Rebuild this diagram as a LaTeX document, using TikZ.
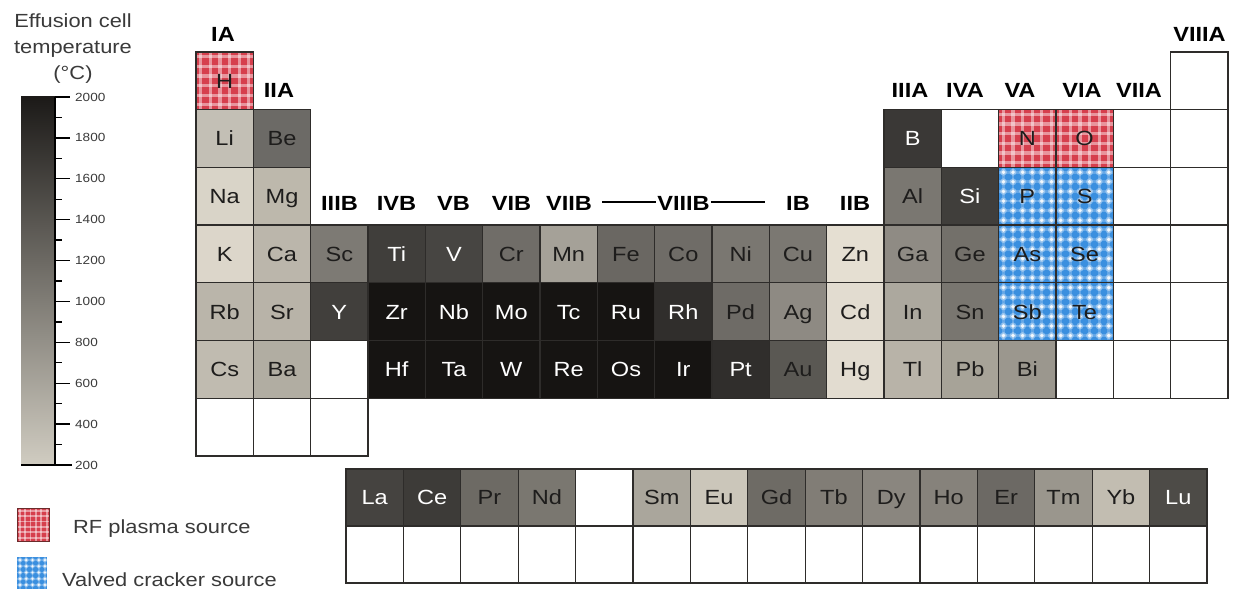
\documentclass[tikz,border=0pt]{standalone}
\usepackage{fontspec}
\setmainfont{Liberation Sans}
\newfontfamily\widesans[FakeStretch=1.15]{Liberation Sans}

\definecolor{gridline}{HTML}{2E2C2A}
\definecolor{inkdark}{HTML}{1E1D1C}
\definecolor{rfred}{HTML}{D63F4D}
\definecolor{rfedge}{HTML}{6A2B2B}
\definecolor{vcblue}{HTML}{3A8FDF}
\definecolor{barhot}{HTML}{1C1A18}
\definecolor{barcool}{HTML}{D0CCC1}
\definecolor{labelgray}{HTML}{3A3A3A}

\newcommand\elemfont{\widesans\fontsize{20.5}{20.5}\selectfont}
\newcommand\groupfont{\widesans\bfseries\fontsize{20.5}{20.5}\selectfont}
\newcommand\titlefont{\widesans\fontsize{19}{19}\selectfont}
\newcommand\scalefont{\widesans\fontsize{11.8}{11.8}\selectfont}

\tikzset{
  cellbox/.style={rectangle, draw=gridline, line width=1.3pt, anchor=north west,
    inner sep=0pt, outer sep=0pt, minimum width=57.33pt, minimum height=57.7pt,
    font=\elemfont, text height=14.7pt, text depth=0pt},
  lanbox/.style={cellbox, minimum width=57.4pt, minimum height=57pt},
  grp/.style={font=\groupfont, text=black, inner sep=1pt, text height=14.7pt, text depth=0pt},
  ticklabel/.style={font=\scalefont, text=labelgray, anchor=west, inner sep=0pt},
  titletext/.style={font=\titlefont, text=labelgray, anchor=base, inner sep=0pt},
  legendtext/.style={font=\titlefont, text=labelgray, anchor=base west, inner sep=0pt},
}

% red gingham patch: x0, y0, width, height, pitch
\newcommand\rfpatch[5]{%
  \begin{scope}
    \clip (#1,#2) rectangle ++(#3,#4);
    \fill[rfred] (#1,#2) rectangle ++(#3,#4);
    \foreach \k in {0,...,6} {
      \draw[white, opacity=.45, line width={0.34*#5}] ({#1+(\k+0.5)*#5},#2) -- ++(0,#4);
      \draw[white, opacity=.45, line width={0.34*#5}] (#1,{#2+(\k+0.5)*#5}) -- ++(#3,0);
    }
  \end{scope}}
% blue dotted patch: x0, y0, width, height, pitch
\newcommand\vcpatch[5]{%
  \begin{scope}
    \clip (#1,#2) rectangle ++(#3,#4);
    \fill[vcblue] (#1,#2) rectangle ++(#3,#4);
    \foreach \k in {0,...,6} {
      \draw[white, opacity=.22, line width={0.3*#5}] ({#1+(\k+0.5)*#5},#2) -- ++(0,#4);
      \draw[white, opacity=.22, line width={0.3*#5}] (#1,{#2+(\k+0.5)*#5}) -- ++(#3,0);
    }
    \foreach \r in {0,...,6} \foreach \c in {0,...,6} {
      \fill[white, opacity=.35] ({#1+(\c+0.5)*#5},{#2+(\r+0.5)*#5}) circle ({0.36*#5});
      \fill[white, opacity=.85] ({#1+(\c+0.5)*#5},{#2+(\r+0.5)*#5}) circle ({0.2*#5});
    }
  \end{scope}}

% element cell of the main table: symbol, column, row, fill (hex), text colour
\newcommand\elcell[5]{\definecolor{cellfill}{HTML}{#4}%
  \node[cellbox, fill=cellfill, text=#5] (#1) at ({196+(#2-1)*57.33},{52+(#3-1)*57.7}) {#1};}
% empty cell of the main table: name, column, row
\newcommand\vacant[3]{%
  \node[cellbox, fill=white] (#1) at ({196+(#2-1)*57.33},{52+(#3-1)*57.7}) {};}
% RF plasma and valved cracker cells
\newcommand\rfcell[3]{%
  \pgfmathsetmacro\cellx{196+(#2-1)*57.33}\pgfmathsetmacro\celly{52+(#3-1)*57.7}%
  \rfpatch{\cellx}{\celly}{57.33}{57.7}{9.6}%
  \node[cellbox, text=inkdark] (#1) at (\cellx,\celly) {#1};}
\newcommand\vccell[3]{%
  \pgfmathsetmacro\cellx{196+(#2-1)*57.33}\pgfmathsetmacro\celly{52+(#3-1)*57.7}%
  \vcpatch{\cellx}{\celly}{57.33}{57.7}{9.6}%
  \node[cellbox, text=inkdark] (#1) at (\cellx,\celly) {#1};}
% lanthanide strip: symbol, position, fill (hex), text colour
\newcommand\lanth[4]{\definecolor{cellfill}{HTML}{#3}%
  \node[lanbox, fill=cellfill, text=#4] (#1) at ({346+(#2-1)*57.4},469) {#1};}
\newcommand\lanvac[3]{%
  \node[lanbox, fill=white] (#1) at ({346+(#2-1)*57.4},#3) {};}

\begin{document}
\begin{tikzpicture}[x=1pt, y=-1pt]
\path[fill=white, use as bounding box] (0,0) rectangle (1238,591);

% ---------- temperature scale ----------
\node[titletext] (ttlA) at (73,28) {Effusion cell};
\node[titletext] (ttlB) at (73,53.5) {temperature};
\node[titletext] (ttlC) at (73,80) {(°C)};
\shade[top color=barhot, bottom color=barcool] (21,97) rectangle (55,465);
\draw[black, line width=1.4pt] (55,97) -- (55,465);
\foreach \v in {300,500,...,1900}
  \draw[black, line width=1.4pt] (55,{465-(\v-200)*0.204444}) -- (62,{465-(\v-200)*0.204444});
\foreach \v in {400,600,...,2000} {
  \draw[black, line width=1.4pt] (55,{465-(\v-200)*0.204444}) -- (70,{465-(\v-200)*0.204444});
  \node[ticklabel] (tick\v) at (75,{465-(\v-200)*0.204444}) {\v};
}
\draw[black, line width=2.2pt] (21,465) -- (72,465);
\node[ticklabel] (tick200) at (75,465) {200};

% ---------- legend ----------
\rfpatch{17}{508}{32}{33}{5.4}
\node[rectangle, anchor=north west, minimum width=32pt, minimum height=33pt, inner sep=0pt,
      draw=rfedge, line width=1.2pt] (legRF) at (17,508) {};
\node[legendtext] (legRFtext) at (73,533) {RF plasma source};
\vcpatch{17}{557}{30}{32}{6.2}
\node[rectangle, anchor=north west, minimum width=30pt, minimum height=32pt, inner sep=0pt] (legVC) at (17,557) {};
\node[legendtext] (legVCtext) at (62,586) {Valved cracker source};

% ---------- group labels ----------
\node[grp] (gIA) at (223,34) {IA};
\node[grp] (gIIA) at (279,90) {IIA};
\node[grp] (gIIIB) at (339.5,203) {IIIB};
\node[grp] (gIVB) at (396.5,203) {IVB};
\node[grp] (gVB) at (453.5,203) {VB};
\node[grp] (gVIB) at (511.5,203) {VIB};
\node[grp] (gVIIB) at (569,203) {VIIB};
\node[grp] (gVIIIB) at (683.5,203) {VIIIB};
\coordinate (braceL) at (602,202);
\coordinate (braceR) at (765,202);
\draw[black, line width=1.6pt] (braceL) -- (braceL -| gVIIIB.west);
\draw[black, line width=1.6pt] (braceR -| gVIIIB.east) -- (braceR);
\node[grp] (gIB) at (798,203) {IB};
\node[grp] (gIIB) at (855,203) {IIB};
\node[grp] (gIIIA) at (910,90) {IIIA};
\node[grp] (gIVA) at (965,90) {IVA};
\node[grp] (gVA) at (1020,90) {VA};
\node[grp] (gVIA) at (1082,90) {VIA};
\node[grp] (gVIIA) at (1139,90) {VIIA};
\node[grp] (gVIIIA) at (1199.5,34) {VIIIA};

% ---------- period 1 ----------
\rfcell{H}{1}{1}
\vacant{He}{18}{1}
% ---------- period 2 ----------
\elcell{Li}{1}{2}{C3BFB5}{inkdark}
\elcell{Be}{2}{2}{6C6A66}{inkdark}
\elcell{B}{13}{2}{3A3836}{white}
\vacant{C}{14}{2}
\rfcell{N}{15}{2}
\rfcell{O}{16}{2}
\vacant{F}{17}{2}
\vacant{Ne}{18}{2}
% ---------- period 3 ----------
\elcell{Na}{1}{3}{D9D4C8}{inkdark}
\elcell{Mg}{2}{3}{BDB8AC}{inkdark}
\elcell{Al}{13}{3}{7A7771}{inkdark}
\elcell{Si}{14}{3}{403E3B}{white}
\vccell{P}{15}{3}
\vccell{S}{16}{3}
\vacant{Cl}{17}{3}
\vacant{Ar}{18}{3}
% ---------- period 4 ----------
\elcell{K}{1}{4}{DCD6CA}{inkdark}
\elcell{Ca}{2}{4}{BBB6AB}{inkdark}
\elcell{Sc}{3}{4}{7D7A74}{inkdark}
\elcell{Ti}{4}{4}{403E3B}{white}
\elcell{V}{5}{4}{474542}{white}
\elcell{Cr}{6}{4}{706D68}{inkdark}
\elcell{Mn}{7}{4}{A5A198}{inkdark}
\elcell{Fe}{8}{4}{6A6762}{inkdark}
\elcell{Co}{9}{4}{6F6C67}{inkdark}
\elcell{Ni}{10}{4}{7A7771}{inkdark}
\elcell{Cu}{11}{4}{7B7872}{inkdark}
\elcell{Zn}{12}{4}{E5DFD2}{inkdark}
\elcell{Ga}{13}{4}{8F8B84}{inkdark}
\elcell{Ge}{14}{4}{73706A}{inkdark}
\vccell{As}{15}{4}
\vccell{Se}{16}{4}
\vacant{Br}{17}{4}
\vacant{Kr}{18}{4}
% ---------- period 5 ----------
\elcell{Rb}{1}{5}{BAB5AA}{inkdark}
\elcell{Sr}{2}{5}{B8B3A8}{inkdark}
\elcell{Y}{3}{5}{413F3C}{white}
\elcell{Zr}{4}{5}{161412}{white}
\elcell{Nb}{5}{5}{161412}{white}
\elcell{Mo}{6}{5}{161412}{white}
\elcell{Tc}{7}{5}{161412}{white}
\elcell{Ru}{8}{5}{161412}{white}
\elcell{Rh}{9}{5}{302E2C}{white}
\elcell{Pd}{10}{5}{6E6B66}{inkdark}
\elcell{Ag}{11}{5}{8E8A83}{inkdark}
\elcell{Cd}{12}{5}{E2DCD0}{inkdark}
\elcell{In}{13}{5}{ACA89E}{inkdark}
\elcell{Sn}{14}{5}{797670}{inkdark}
\vccell{Sb}{15}{5}
\vccell{Te}{16}{5}
\vacant{I}{17}{5}
\vacant{Xe}{18}{5}
% ---------- period 6 ----------
\elcell{Cs}{1}{6}{C0BBB0}{inkdark}
\elcell{Ba}{2}{6}{B1ADA2}{inkdark}
\vacant{Lnslot}{3}{6}
\elcell{Hf}{4}{6}{161412}{white}
\elcell{Ta}{5}{6}{161412}{white}
\elcell{W}{6}{6}{161412}{white}
\elcell{Re}{7}{6}{161412}{white}
\elcell{Os}{8}{6}{161412}{white}
\elcell{Ir}{9}{6}{161412}{white}
\elcell{Pt}{10}{6}{302E2C}{white}
\elcell{Au}{11}{6}{5A5853}{inkdark}
\elcell{Hg}{12}{6}{E2DCD0}{inkdark}
\elcell{Tl}{13}{6}{B8B3A8}{inkdark}
\elcell{Pb}{14}{6}{A7A398}{inkdark}
\elcell{Bi}{15}{6}{9B978E}{inkdark}
\vacant{Po}{16}{6}
\vacant{At}{17}{6}
\vacant{Rn}{18}{6}
% ---------- period 7 ----------
\vacant{Fr}{1}{7}
\vacant{Ra}{2}{7}
\vacant{Anslot}{3}{7}

% ---------- lanthanides ----------
\lanth{La}{1}{454340}{white}
\lanth{Ce}{2}{3D3B38}{white}
\lanth{Pr}{3}{6D6A64}{inkdark}
\lanth{Nd}{4}{7A7770}{inkdark}
\lanvac{Pm}{5}{469}
\lanth{Sm}{6}{AAA69C}{inkdark}
\lanth{Eu}{7}{CBC6BA}{inkdark}
\lanth{Gd}{8}{6E6B65}{inkdark}
\lanth{Tb}{9}{817D76}{inkdark}
\lanth{Dy}{10}{8A867F}{inkdark}
\lanth{Ho}{11}{86827B}{inkdark}
\lanth{Er}{12}{6C6964}{inkdark}
\lanth{Tm}{13}{9A968D}{inkdark}
\lanth{Yb}{14}{C2BDB1}{inkdark}
\lanth{Lu}{15}{4D4B47}{white}
% ---------- actinide row (empty) ----------
\foreach \i in {1,...,15} { \lanvac{act\i}{\i}{526} }
\end{tikzpicture}
\end{document}
